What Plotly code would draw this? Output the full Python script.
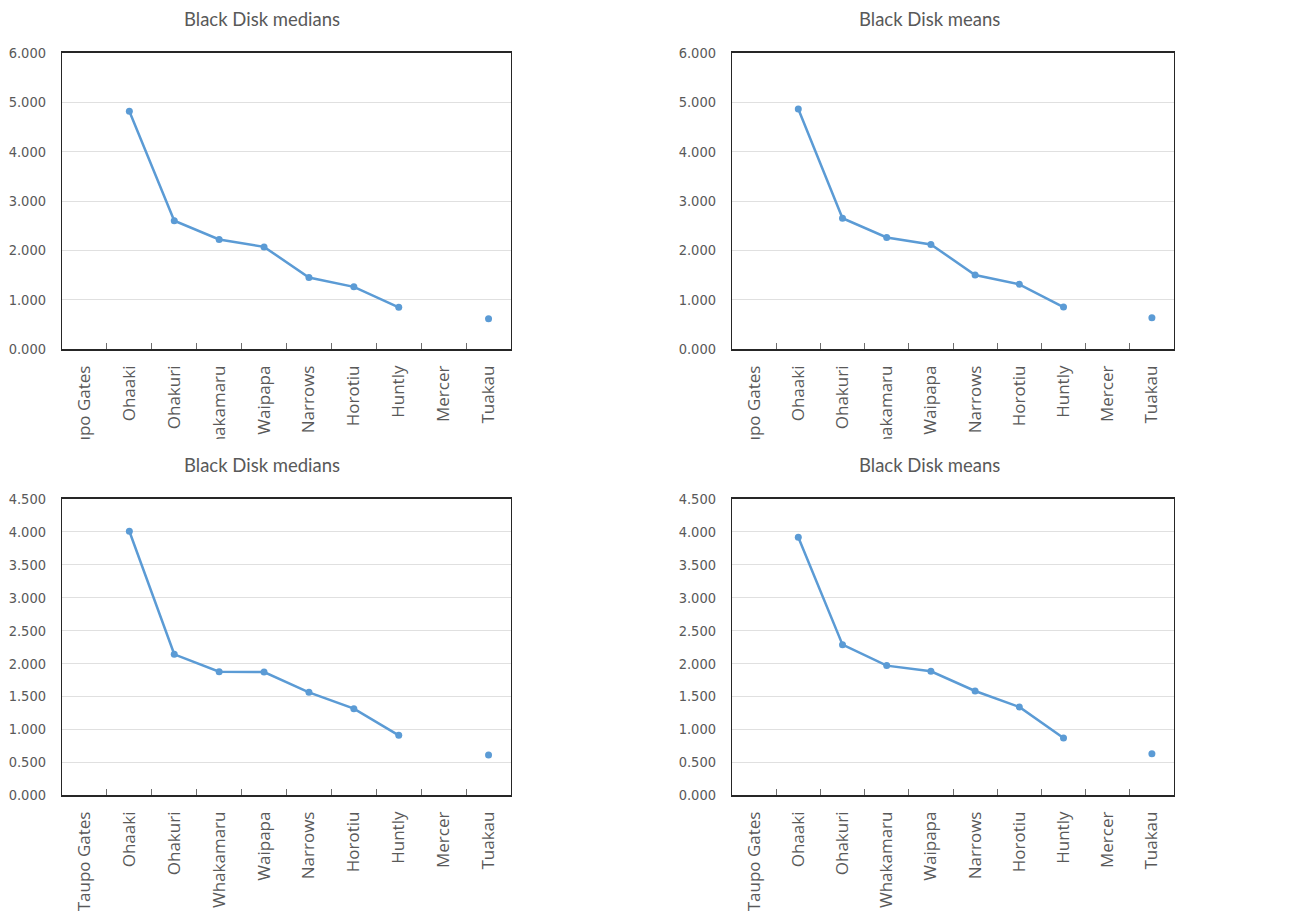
import plotly.graph_objects as go

sites = ["Taupo Gates", "Ohaaki", "Ohakuri", "Whakamaru", "Waipapa",
         "Narrows", "Horotiu", "Huntly", "Mercer", "Tuakau"]

medians_a = [None, 4.82, 2.60, 2.22, 2.07, 1.45, 1.26, 0.845, None, 0.615]
means_a = [None, 4.865, 2.65, 2.26, 2.12, 1.50, 1.31, 0.85, None, 0.635]
medians_b = [None, 4.009, 2.139, 1.875, 1.870, 1.561, 1.313, 0.907, None, 0.608]
means_b = [None, 3.918, 2.286, 1.967, 1.880, 1.581, 1.338, 0.867, None, 0.628]

titles = ["Black Disk medians", "Black Disk means", "Black Disk medians", "Black Disk means"]
series = [medians_a, means_a, medians_b, means_b]
y_max = [6.0, 6.0, 4.5, 4.5]
y_step = [1.0, 1.0, 0.5, 0.5]

# the page body has an 8px margin, so the figure is placed at (8, 8)
OFF = 8
W, H = 1309 - OFF, 915 - OFF


def px(X):
    return (X - OFF) / W


def py(Y):
    return 1 - (Y - OFF) / H


# plot-area pixel boxes (x0, x1, y0, y1) in screen pixels from the top-left
boxes = [(62, 511, 53, 349), (732, 1174, 53, 349),
         (62, 511, 499, 795), (732, 1174, 499, 795)]
title_pos = [(262, 19), (929, 19), (262, 465), (929, 465)]

BLUE = "#5b9bd5"
GREY = "#595959"
AXIS = "#262626"

fig = go.Figure()
layout = dict(
    width=W, height=H, margin=dict(l=0, r=0, t=0, b=0, autoexpand=False),
    paper_bgcolor="white", plot_bgcolor="white", showlegend=False,
    annotations=[], shapes=[],
)

for i in range(4):
    xa = "x" if i == 0 else f"x{i+1}"
    ya = "y" if i == 0 else f"y{i+1}"
    fig.add_trace(go.Scatter(
        x=sites, y=series[i], xaxis=xa, yaxis=ya, mode="lines+markers",
        line=dict(color=BLUE, width=2.5), marker=dict(color=BLUE, size=7),
        connectgaps=False, hoverinfo="x+y",
    ))
    x0, x1, y0, y1 = boxes[i]
    xkey = "xaxis" if i == 0 else f"xaxis{i+1}"
    ykey = "yaxis" if i == 0 else f"yaxis{i+1}"
    layout[xkey] = dict(
        domain=[px(x0), px(x1)], anchor=ya, type="category", automargin=False,
        categoryorder="array", categoryarray=sites,
        showline=True, linecolor=AXIS, linewidth=1.5, mirror=True,
        ticks="inside", tickson="boundaries", ticklen=6, tickwidth=1.2, tickcolor="#6e6e6e",
        tickangle=-90, showgrid=False,
        tickfont=dict(family="Open Sans, sans-serif", size=17, color=GREY),
        ticklabelstandoff=8, range=[-0.5, 9.5],
    )
    layout[ykey] = dict(
        domain=[py(y1), py(y0)], anchor=xa, automargin=False,
        range=[0, y_max[i]], dtick=y_step[i], tick0=0, tickformat=".3f",
        showline=True, linecolor=AXIS, linewidth=1.2, mirror=True,
        showgrid=True, gridcolor="#e0e0e0", gridwidth=1, zeroline=False,
        ticks="", ticklabelstandoff=12,
        tickfont=dict(family="DejaVu Sans Condensed, Liberation Sans, sans-serif",
                      size=14.5, color=GREY),
    )
    tx, ty = title_pos[i]
    layout["annotations"].append(dict(
        text=titles[i], xref="paper", yref="paper", x=px(tx), y=py(ty),
        xanchor="center", yanchor="middle", showarrow=False,
        font=dict(family="Lato, sans-serif", size=18.5, color=GREY),
    ))

# clip the overflowing category labels of the upper charts (titles stay on top)
layout["shapes"].append(dict(
    type="rect", xref="paper", yref="paper", layer="above",
    x0=0, x1=1, y0=py(480), y1=py(439),
    fillcolor="white", line=dict(width=0),
))

fig.update_layout(**layout)
fig.write_html("out.html")
